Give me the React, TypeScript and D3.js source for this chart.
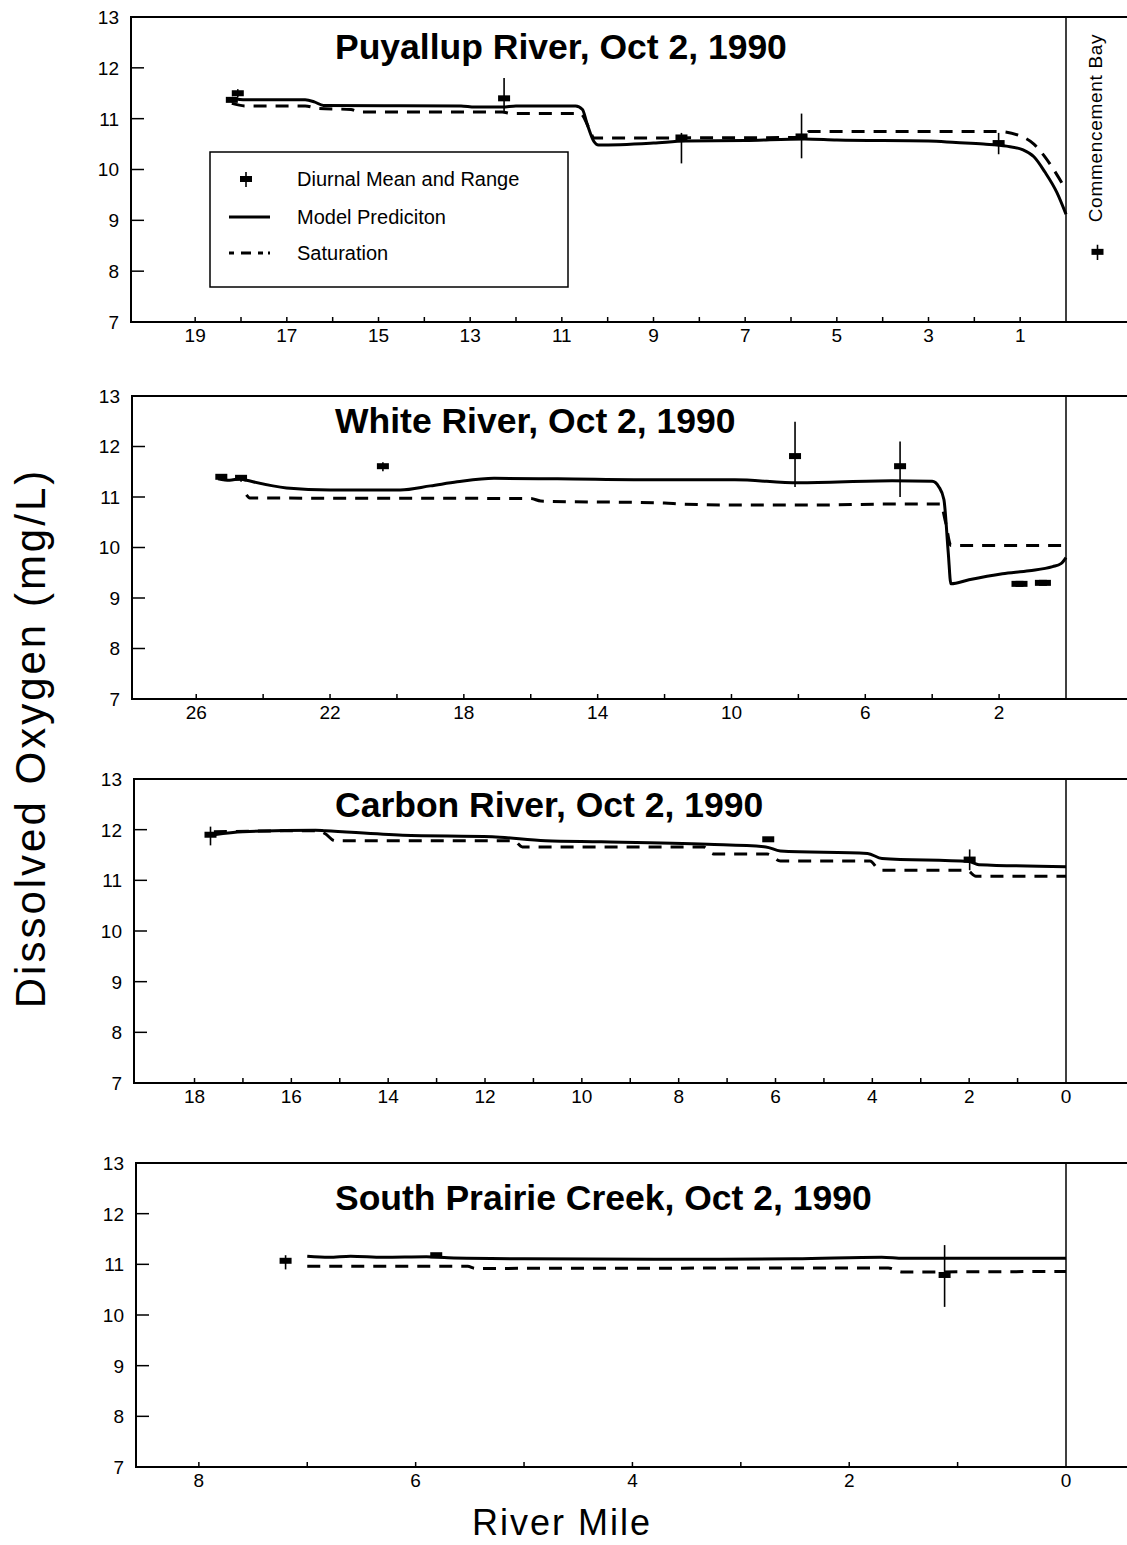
import React from "react";
import * as d3 from "d3";

// ---- Dissolved oxygen along the Puyallup basin rivers, Oct 2, 1990 ----
// Series are [river mile, DO mg/L]; observations are [river mile, mean, min, max].

const puyallupModel: [number, number][] = [
  [18.2, 11.4], [17.9, 11.37], [16.6, 11.37], [16.4, 11.33], [16.2, 11.26],
  [13.2, 11.25], [12.9, 11.23], [12.3, 11.23], [12.0, 11.25], [10.7, 11.25],
  [10.55, 11.18], [10.45, 10.9], [10.3, 10.55], [10.2, 10.48], [9.0, 10.52],
  [8.3, 10.56], [7.0, 10.57], [5.7, 10.6], [5.0, 10.58], [3.0, 10.56],
  [2.4, 10.53], [1.8, 10.5], [1.3, 10.46], [0.95, 10.39], [0.7, 10.25],
  [0.46, 9.95], [0.2, 9.55], [0.0, 9.12],
];
const puyallupSaturation: [number, number][] = [
  [18.2, 11.3], [17.9, 11.25], [16.6, 11.25], [16.3, 11.2], [15.6, 11.18],
  [15.4, 11.13], [12.3, 11.13], [12.1, 11.1], [10.6, 11.1], [10.4, 10.8],
  [10.3, 10.62], [5.75, 10.63], [5.6, 10.75], [1.5, 10.75], [1.0, 10.66],
  [0.7, 10.5], [0.46, 10.25], [0.2, 9.9], [0.0, 9.6],
];
const puyallupObserved: [number, number, number, number][] = [
  [18.2, 11.37, 11.32, 11.42], [18.07, 11.5, 11.42, 11.58],
  [12.26, 11.4, 11.15, 11.8], [8.39, 10.63, 10.12, 10.72],
  [5.77, 10.65, 10.22, 11.1], [1.47, 10.52, 10.3, 10.72],
];
// Commencement Bay sample (beyond the river mouth)
const commencementBay: [number, number, number] = [8.38, 8.22, 8.52];

const whiteModel: [number, number][] = [
  [25.35, 11.36], [25.0, 11.33], [24.7, 11.36], [24.5, 11.33], [23.3, 11.18],
  [22.0, 11.14], [19.9, 11.14], [19.0, 11.22], [18.2, 11.3], [17.1, 11.37],
  [15.2, 11.36], [12.1, 11.34], [9.9, 11.34], [8.0, 11.28], [5.2, 11.32],
  [4.0, 11.31], [3.8, 11.2], [3.65, 10.95], [3.52, 9.9], [3.44, 9.28],
  [2.9, 9.36], [1.9, 9.48], [1.1, 9.54], [0.4, 9.62], [0.15, 9.68], [0.0, 9.8],
];
const whiteSaturation: [number, number][] = [
  [24.5, 11.04], [24.4, 10.98], [16.0, 10.97], [15.7, 10.92], [12.0, 10.88],
  [11.5, 10.86], [9.9, 10.84], [7.5, 10.84], [5.3, 10.86], [3.75, 10.86],
  [3.6, 10.5], [3.44, 10.04], [0.0, 10.04],
];
const whiteObserved: [number, number, number, number][] = [
  [25.25, 11.4, 11.35, 11.45], [24.66, 11.38, 11.3, 11.43],
  [20.42, 11.61, 11.51, 11.69], [8.1, 11.81, 11.2, 12.49],
  [4.96, 11.61, 11.0, 12.1], [1.45, 9.28, 9.28, 9.28], [1.33, 9.28, 9.28, 9.28],
  [0.75, 9.3, 9.3, 9.3], [0.63, 9.3, 9.3, 9.3],
];

const carbonModel: [number, number][] = [
  [17.6, 11.9], [17.0, 11.96], [15.5, 11.99], [15.3, 11.98], [13.7, 11.89],
  [11.85, 11.86], [10.75, 11.78], [9.6, 11.76], [7.4, 11.71], [6.2, 11.66],
  [5.9, 11.58], [4.1, 11.53], [3.8, 11.43], [2.0, 11.37], [1.8, 11.31],
  [0.0, 11.27],
];
const carbonSaturation: [number, number][] = [
  [17.6, 11.96], [15.45, 11.98], [15.3, 11.92], [15.1, 11.78], [11.4, 11.78],
  [11.23, 11.66], [7.49, 11.66], [7.28, 11.52], [6.17, 11.52], [5.9, 11.38],
  [4.05, 11.38], [3.84, 11.2], [2.05, 11.2], [1.86, 11.08], [0.0, 11.08],
];
const carbonObserved: [number, number, number, number][] = [
  [17.67, 11.9, 11.69, 12.06], [6.15, 11.81, 11.76, 11.84],
  [1.99, 11.41, 11.2, 11.61],
];

const southPrairieModel: [number, number][] = [
  [7.0, 11.16], [6.8, 11.14], [6.6, 11.16], [6.3, 11.14], [5.9, 11.15],
  [5.7, 11.13], [5.0, 11.11], [3.75, 11.1], [2.5, 11.11], [1.7, 11.14],
  [1.5, 11.12], [0.0, 11.12],
];
const southPrairieSaturation: [number, number][] = [
  [7.0, 10.96], [5.52, 10.96], [5.45, 10.92], [1.64, 10.93], [1.51, 10.85],
  [0.0, 10.86],
];
const southPrairieObserved: [number, number, number, number][] = [
  [7.2, 11.07, 10.9, 11.18], [5.81, 11.18, 11.16, 11.2],
  [1.12, 10.79, 10.16, 11.38],
];

// Axis ticks
const doTicks = [7, 8, 9, 10, 11, 12, 13];
const puyallupTicks = d3.range(1, 20);
const puyallupLabels = [19, 17, 15, 13, 11, 9, 7, 5, 3, 1];
const whiteTicks = d3.range(2, 27, 2);
const whiteLabels = [26, 22, 18, 14, 10, 6, 2];
const carbonTicks = d3.range(1, 19);
const carbonLabels = [18, 16, 14, 12, 10, 8, 6, 4, 2, 0];
const southPrairieTicks = d3.range(1, 9);
const southPrairieLabels = [8, 6, 4, 2, 0];

const legendItems = ["Diurnal Mean and Range", "Model Prediciton", "Saturation"];

// ---- layout ----
const W = 1127;
const H = 1545;
const FONT = '"Liberation Sans", Arial, Helvetica, sans-serif';
const MOUTH_X = 1066;
const DASH = "13 9";

type Panel = {
  title: string;
  model: [number, number][];
  saturation: [number, number][];
  observed: [number, number, number, number][];
  maxMile: number;
  ticks: number[];
  labels: number[];
  top: number;
  bottom: number;
  left: number;
  titleY: number;
};

const panels: Panel[] = [
  {
    title: "Puyallup River, Oct 2, 1990",
    model: puyallupModel, saturation: puyallupSaturation, observed: puyallupObserved,
    maxMile: 20.4, ticks: puyallupTicks, labels: puyallupLabels,
    top: 17, bottom: 322, left: 131, titleY: 59,
  },
  {
    title: "White River, Oct 2, 1990",
    model: whiteModel, saturation: whiteSaturation, observed: whiteObserved,
    maxMile: 27.92, ticks: whiteTicks, labels: whiteLabels,
    top: 396, bottom: 699, left: 132, titleY: 433,
  },
  {
    title: "Carbon River, Oct 2, 1990",
    model: carbonModel, saturation: carbonSaturation, observed: carbonObserved,
    maxMile: 19.25, ticks: carbonTicks, labels: carbonLabels,
    top: 779, bottom: 1083, left: 134, titleY: 817,
  },
  {
    title: "South Prairie Creek, Oct 2, 1990",
    model: southPrairieModel, saturation: southPrairieSaturation, observed: southPrairieObserved,
    maxMile: 8.58, ticks: southPrairieTicks, labels: southPrairieLabels,
    top: 1163, bottom: 1467, left: 136, titleY: 1210,
  },
];

function ObsMark({ x, y, y0, y1 }: { x: number; y: number; y0: number; y1: number }) {
  return (
    <g>
      {Math.abs(y1 - y0) > 1 && (
        <line x1={x} x2={x} y1={y0} y2={y1} stroke="#000" strokeWidth={1.6} />
      )}
      <rect x={x - 6} y={y - 3} width={12} height={6} fill="#000" />
    </g>
  );
}

function RiverPanel({ p, index }: { p: Panel; index: number }) {
  const x = d3.scaleLinear().domain([p.maxMile, 0]).range([p.left, MOUTH_X]);
  const y = d3.scaleLinear().domain([7, 13]).range([p.bottom, p.top]);
  const line = d3
    .line<[number, number]>()
    .x((d) => x(d[0]))
    .y((d) => y(d[1]))
    .curve(d3.curveMonotoneX);

  return (
    <g>
      {/* frame; right edge runs past the page */}
      <rect x={p.left} y={p.top} width={W + 10 - p.left} height={p.bottom - p.top}
        fill="none" stroke="#000" strokeWidth={2} />
      {/* river mouth */}
      <line x1={MOUTH_X} x2={MOUTH_X} y1={p.top} y2={p.bottom} stroke="#000" strokeWidth={1.5} />

      {/* y axis */}
      {doTicks.map((t) => (
        <g key={"y" + t}>
          <line x1={p.left} x2={p.left + 13} y1={y(t)} y2={y(t)} stroke="#000" strokeWidth={1.5} />
          <text x={p.left - 12} y={y(t)} dy="0.36em" textAnchor="end"
            fontFamily={FONT} fontSize={19}>{t}</text>
        </g>
      ))}

      {/* x axis */}
      {p.ticks.map((t) => (
        <line key={"xt" + t} x1={x(t)} x2={x(t)} y1={p.bottom} y2={p.bottom - 5}
          stroke="#000" strokeWidth={1.5} />
      ))}
      {p.labels.map((t) => (
        <text key={"xl" + t} x={x(t)} y={p.bottom + 20} textAnchor="middle"
          fontFamily={FONT} fontSize={19}>{t}</text>
      ))}

      <text x={335} y={p.titleY} fontFamily={FONT} fontWeight="bold" fontSize={35.5}>
        {p.title}
      </text>

      <path d={line(p.saturation) ?? ""} fill="none" stroke="#000" strokeWidth={3}
        strokeDasharray={DASH} />
      <path d={line(p.model) ?? ""} fill="none" stroke="#000" strokeWidth={3} />

      {p.observed.map((o, i) => (
        <ObsMark key={"o" + i} x={x(o[0])} y={y(o[1])} y0={y(o[2])} y1={y(o[3])} />
      ))}

      {index === 0 && (
        <g>
          {/* Commencement Bay, beyond the mouth */}
          <text transform={`translate(1102, 128) rotate(-90)`} textAnchor="middle"
            fontFamily={FONT} fontSize={19} letterSpacing={0.7}>Commencement Bay</text>
          <ObsMark x={(MOUTH_X + W) / 2 + 1} y={y(commencementBay[0])}
            y0={y(commencementBay[1])} y1={y(commencementBay[2])} />
          {/* legend */}
          <rect x={210} y={152} width={358} height={135} fill="#fff" stroke="#000" strokeWidth={1.5} />
          <ObsMark x={246} y={179} y0={172} y1={187} />
          <line x1={229} x2={270} y1={217} y2={217} stroke="#000" strokeWidth={3} />
          <line x1={229} x2={270} y1={253} y2={253} stroke="#000" strokeWidth={3}
            strokeDasharray="5 7 10 7 5" />
          {legendItems.map((s, i) => (
            <text key={s} x={297} y={[179, 217, 253][i]} dy="0.36em" fontFamily={FONT}
              fontSize={20}>{s}</text>
          ))}
        </g>
      )}
    </g>
  );
}

export default function App() {
  return (
    <svg width={W} height={H} viewBox={`0 0 ${W} ${H}`}
      style={{ position: "absolute", left: 0, top: 0, background: "#fff" }}>
      <rect width={W} height={H} fill="#fff" />
      {panels.map((p, i) => (
        <RiverPanel key={p.title} p={p} index={i} />
      ))}
      <text transform="translate(45, 738) rotate(-90)" textAnchor="middle"
        fontFamily={FONT} fontSize={42} letterSpacing={3}>Dissolved Oxygen (mg/L)</text>
      <text x={562} y={1535} textAnchor="middle" fontFamily={FONT} fontSize={36}
        letterSpacing={2}>River Mile</text>
    </svg>
  );
}
